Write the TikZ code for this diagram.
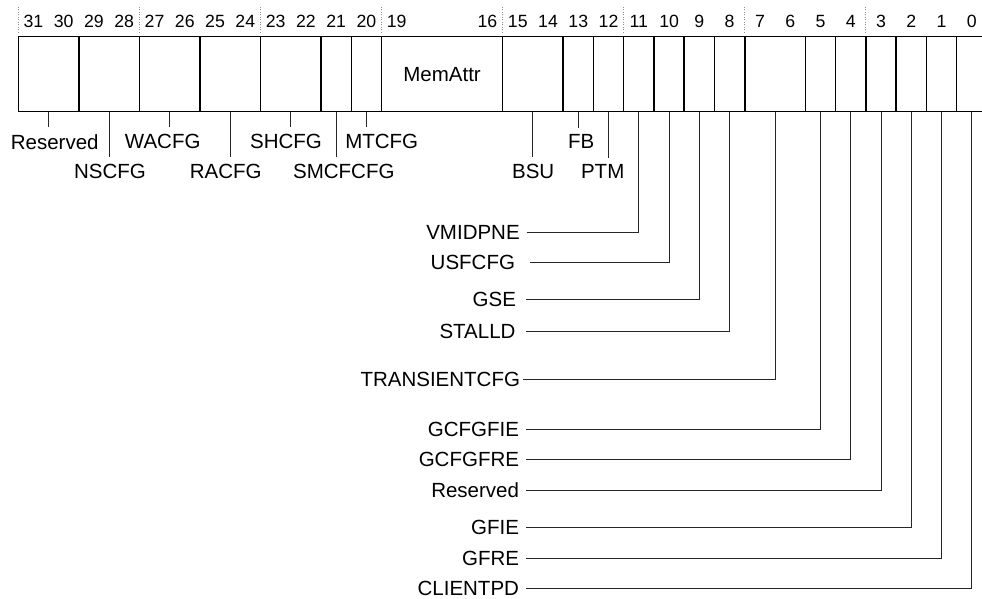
\documentclass[tikz,border=0pt]{standalone}
\usepackage{fontspec}
\setmainfont{Liberation Sans}
\newcommand{\labfont}{\fontsize{20.5}{24}\selectfont}
\newcommand{\numfont}{\fontsize{17.7}{21}\selectfont}
\begin{document}
\begin{tikzpicture}[x=1pt,y=-1pt,
  field/.style={draw=black,line width=1.5pt,rectangle,inner sep=0pt,outer sep=0pt,minimum height=75pt,font=\labfont},
  w1/.style={minimum width=30.27pt},
  w2/.style={minimum width=60.54pt},
  w4/.style={minimum width=121.08pt},
  bitnum/.style={inner sep=0pt,font=\numfont},
  blab/.style={inner sep=0pt,outer ysep=7pt,font=\labfont},
  rlab/.style={inner sep=0pt,anchor=east,outer xsep=7pt,font=\labfont},
  conn/.style={draw=black!85,line width=1pt},
  dotsep/.style={draw=black!45,line width=0.8pt,dash pattern=on 1pt off 1.5pt}]
\useasboundingbox (0,0) rectangle (982,599);

% register fields
\node[field,w2] (f31) at (48.57,74.2) {};
\node[field,w2] (f29) at (109.11,74.2) {};
\node[field,w2] (f27) at (169.65,74.2) {};
\node[field,w2] (f25) at (230.19,74.2) {};
\node[field,w2] (f23) at (290.73,74.2) {};
\node[field,w1] (f21) at (336.135,74.2) {};
\node[field,w1] (f20) at (366.405,74.2) {};
\node[field,w4] (f19) at (442.08,74.2) {MemAttr};
\node[field,w2] (f15) at (532.89,74.2) {};
\node[field,w1] (f13) at (578.295,74.2) {};
\node[field,w1] (f12) at (608.565,74.2) {};
\node[field,w1] (f11) at (638.835,74.2) {};
\node[field,w1] (f10) at (669.105,74.2) {};
\node[field,w1] (f9) at (699.375,74.2) {};
\node[field,w1] (f8) at (729.645,74.2) {};
\node[field,w2] (f7) at (775.05,74.2) {};
\node[field,w1] (f5) at (820.455,74.2) {};
\node[field,w1] (f4) at (850.725,74.2) {};
\node[field,w1] (f3) at (880.995,74.2) {};
\node[field,w1] (f2) at (911.265,74.2) {};
\node[field,w1] (f1) at (941.535,74.2) {};
\node[field,w1] (f0) at (971.805,74.2) {};

% bit numbers
\foreach \b in {31,30,29,28,27,26,25,24,23,22,21,20,19,16,15,14,13,12,11,10,9,8,7,6,5,4,3,2,1,0}
  \node[bitnum] (n\b) at ({33.435+(31-\b)*30.27},21.3) {\b};

% dotted separators
\foreach \f in {f31,f27,f23,f19,f15,f11,f7,f3}
  \draw[dotsep] ([yshift=3.7pt]\f.north west) -- ++(0,-27);

% labels below, upper fields
\node[blab] (lres) at (54.7,141.7) {Reserved};
\node[blab] (lwa) at (162.7,141.7) {WACFG};
\node[blab] (lsh) at (286,141.7) {SHCFG};
\node[blab] (lmt) at (381.7,141.7) {MTCFG};
\node[blab] (lfb) at (581.2,141.7) {FB};
\node[blab] (lns) at (110,171.7) {NSCFG};
\node[blab] (lra) at (225.8,171.7) {RACFG};
\node[blab] (lsm) at (343.8,171.7) {SMCFCFG};
\node[blab] (lbsu) at (533.2,171.7) {BSU};
\node[blab] (lptm) at (602.7,171.7) {PTM};

\draw[conn] (f31.south) -- (f31.south |- lres.north);
\draw[conn] (f29.south) -- (f29.south |- lns.north);
\draw[conn] (f27.south) -- (f27.south |- lwa.north);
\draw[conn] (f25.south) -- (f25.south |- lra.north);
\draw[conn] (f23.south) -- (f23.south |- lsh.north);
\draw[conn] (f21.south) -- (f21.south |- lsm.north);
\draw[conn] (f20.south) -- (f20.south |- lmt.north);
\draw[conn] (f15.south) -- (f15.south |- lbsu.north);
\draw[conn] (f13.south) -- (f13.south |- lfb.north);
\draw[conn] (f12.south) -- (f12.south |- lptm.north);

% labels on the left, lower fields
\node[rlab] (l11) at (526.7,232.7) {VMIDPNE};
\node[rlab,outer xsep=15pt] (l10) at (530,262.3) {USFCFG};
\node[rlab,outer xsep=10pt] (l9) at (526,299.3) {GSE};
\node[rlab,outer xsep=10.5pt] (l8) at (526,331.3) {STALLD};
\node[rlab,outer xsep=3.3pt] (l7) at (523.3,379.5) {TRANSIENTCFG};
\node[rlab] (l5) at (526,429.3) {GCFGFIE};
\node[rlab] (l4) at (526,459.3) {GCFGFRE};
\node[rlab] (l3) at (526,490) {Reserved};
\node[rlab] (l2) at (526,527.7) {GFIE};
\node[rlab] (l1) at (526,558.3) {GFRE};
\node[rlab] (l0) at (526,588.3) {CLIENTPD};

\foreach \i in {11,10,9,8,7,5,4,3,2,1,0}
  \draw[conn] (l\i.east) -| (f\i.south);
\end{tikzpicture}
\end{document}
